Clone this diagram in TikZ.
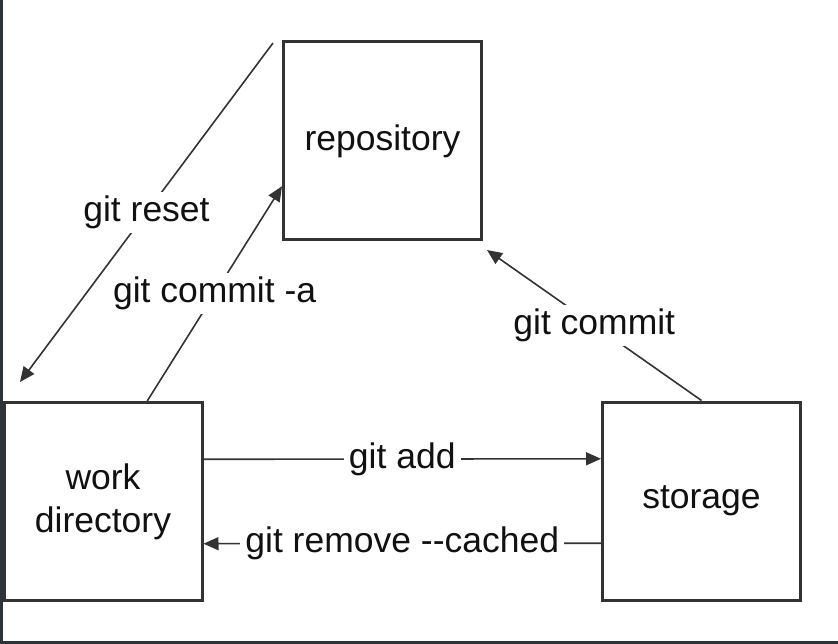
\documentclass[tikz,border=0pt]{standalone}
\usepackage{fontspec}
\setmainfont[Ligatures=NoCommon]{Liberation Sans}
\usetikzlibrary{arrows.meta,calc}
\definecolor{boxc}{HTML}{333333}
\definecolor{linec}{HTML}{333333}
\definecolor{txt}{HTML}{111111}
\definecolor{framec}{HTML}{2C343A}
\begin{document}
\begin{tikzpicture}[x=1pt,y=-1pt,
  box/.style={draw=boxc, line width=3pt, fill=white, minimum width=198pt, minimum height=198pt,
    inner sep=0pt, align=center, font=\fontsize{35.5}{43}\selectfont, text=txt},
  conn/.style={draw=linec, line width=1.6pt},
  tip/.style={-{Triangle[length=15pt,width=13pt]}},
  lbl/.style={fill=white, inner xsep=5pt, inner ysep=4pt, font=\fontsize{35.5}{43}\selectfont, text=txt}]
\useasboundingbox (0,0) rectangle (838,644);
\fill[white] (0,0) rectangle (838,644);
\fill[framec] (0,0) rectangle (2.5,644);
\fill[framec] (0,640.5) rectangle (838,644);

\node[box] (repo) at (382.5,141) {repository};
\node[box] (wd) at (103,501.5) {work\\directory};
\node[box] (st) at (701.5,501) {storage};

\coordinate (rs) at (273,43);
\coordinate (re) at (20,382);
\coordinate (ca) at ($(wd.north west)!0.72!(wd.north east)$);
\coordinate (cb) at ($(repo.north west)!0.725!(repo.south west)$);
\coordinate (ce) at (487,250);
\coordinate (a1) at ($(wd.north east)!0.29!(wd.south east)$);
\coordinate (a2) at ($(st.north west)!0.29!(st.south west)$);
\coordinate (r1) at ($(st.north west)!0.71!(st.south west)$);
\coordinate (r2) at ($(wd.north east)!0.71!(wd.south east)$);

\draw[conn,tip] (rs) -- node[lbl] {git reset} (re);
\draw[conn,tip] (ca) -- node[lbl] {git commit -a} (cb);
\draw[conn,tip] (st.north) -- node[lbl] {git commit} (ce);
\draw[conn,tip] (a1) -- node[lbl] {git add} (a2);
\draw[conn,tip] (r1) -- node[lbl] {git remove -{}-cached} (r2);
\end{tikzpicture}
\end{document}
